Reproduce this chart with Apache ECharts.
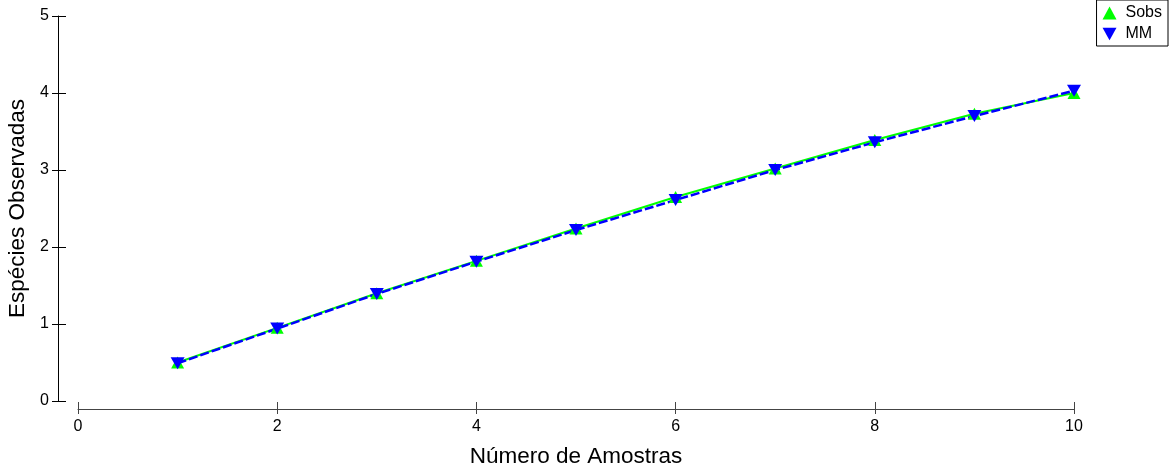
<!DOCTYPE html>
<html><head><meta charset="utf-8">
<script src="https://cdn.jsdelivr.net/npm/echarts@6/dist/echarts.min.js"></script>
<style>html,body{margin:0;padding:0;background:#fff}#c{width:1170px;height:466px}</style>
</head><body><div id="c"></div>
<script>
var samples = [1, 2, 3, 4, 5, 6, 7, 8, 9, 10];
var sobs = [0.50, 0.95, 1.40, 1.82, 2.24, 2.65, 3.02, 3.39, 3.73, 4.00];
var mm = [0.49, 0.94, 1.39, 1.81, 2.22, 2.61, 3.00, 3.36, 3.70, 4.03];
var xTicks = [0, 2, 4, 6, 8, 10];
var yTicks = [0, 1, 2, 3, 4, 5];

var font = 'Liberation Sans, Arial, sans-serif';
var downTri = 'path://M0,0 L10,0 L5,9 Z';
var chart = echarts.init(document.getElementById('c'));
function pairs(v){ return samples.map(function(s,i){ return [s, v[i]]; }); }
chart.setOption({
  animation: false,
  grid: { left: 78, right: 96, top: 16, bottom: 65, containLabel: false, outerBoundsMode: 'none' },
  legend: {
    orient: 'vertical', right: 2, top: 0,
    borderColor: '#000', borderWidth: 1, padding: [5, 6, 4, 6], itemGap: 5,
    itemWidth: 14, itemHeight: 13,
    textStyle: { fontFamily: font, fontSize: 16, color: '#000', padding: [0,0,0,4] },
    data: [
      { name: 'Sobs', icon: 'triangle', itemStyle: { color: '#00ff00' } },
      { name: 'MM', icon: downTri, itemStyle: { color: '#0000ff' } }
    ]
  },
  xAxis: [{
    type: 'value', min: 0, max: 10, interval: 2, position: 'bottom', offset: 8,
    name: 'Número de Amostras', nameLocation: 'middle', nameGap: 36,
    nameTextStyle: { fontFamily: font, fontSize: 22.5, color: '#000' },
    axisLine: { show: true, onZero: false, lineStyle: { color: '#444', width: 1 } },
    axisTick: { show: true, inside: true, length: 7, lineStyle: { color: '#444' } },
    axisLabel: { fontFamily: font, fontSize: 16, color: '#000', margin: 10,
      formatter: function(v){ return xTicks.indexOf(v) >= 0 ? String(v) : ''; } },
    splitLine: { show: false }
  }, {
    type: 'value', min: 0, max: 10, interval: 2, position: 'bottom', offset: 8,
    axisLine: { show: false, onZero: false },
    axisTick: { show: true, inside: false, length: 5, lineStyle: { color: '#444' } },
    axisLabel: { show: false }, splitLine: { show: false }
  }],
  yAxis: [{
    type: 'value', min: 0, max: 5, interval: 1, position: 'left', offset: 20,
    name: 'Espécies Observadas', nameLocation: 'middle', nameGap: 27, nameRotate: 90,
    nameTextStyle: { fontFamily: font, fontSize: 22.5, color: '#000' },
    axisLine: { show: true, onZero: false, lineStyle: { color: '#000', width: 1 } },
    axisTick: { show: true, inside: false, length: 6, lineStyle: { color: '#000' } },
    axisLabel: { fontFamily: font, fontSize: 16, color: '#000', margin: 9,
      formatter: function(v){ return yTicks.indexOf(v) >= 0 ? String(v) : ''; } },
    splitLine: { show: false }
  }, {
    type: 'value', min: 0, max: 5, interval: 1, position: 'left', offset: 20,
    axisLine: { show: false, onZero: false },
    axisTick: { show: true, inside: true, length: 8, lineStyle: { color: '#000' } },
    axisLabel: { show: false }, splitLine: { show: false }
  }],
  series: [{
    name: 'Sobs', type: 'line', data: pairs(sobs),
    symbol: 'triangle', symbolSize: [13, 12], showSymbol: true,
    itemStyle: { color: '#00ff00' },
    lineStyle: { color: '#00ff00', width: 2 }
  }, {
    name: 'MM', type: 'line', data: pairs(mm),
    symbol: downTri, symbolSize: [14, 12],
    itemStyle: { color: '#0000ff' },
    lineStyle: { color: '#0000ff', width: 2.5, type: [9, 3] }
  }]
});
</script></body></html>
